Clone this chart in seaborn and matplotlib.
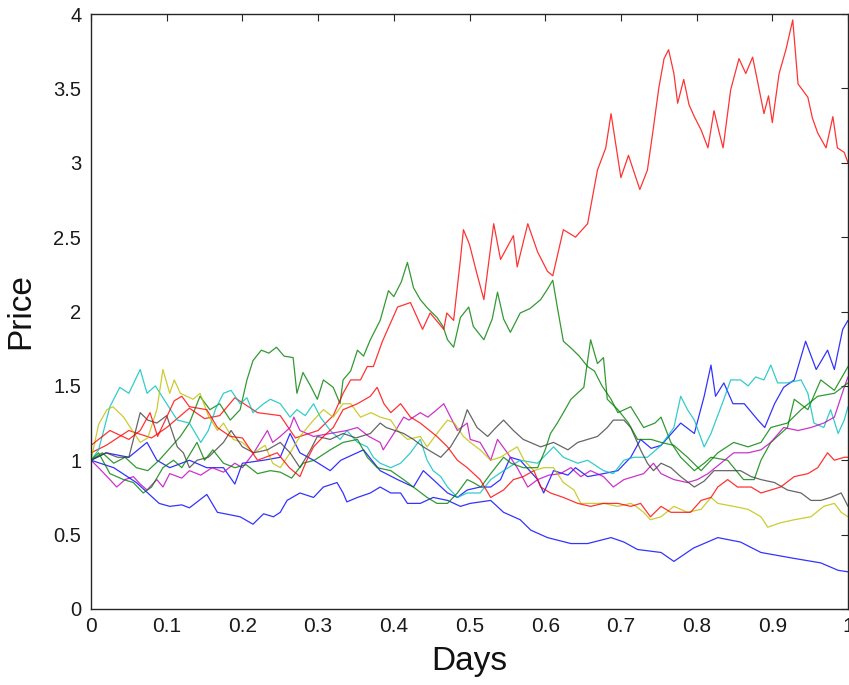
import matplotlib
matplotlib.use("Agg")
import matplotlib.pyplot as plt
import seaborn as sns
import pandas as pd

# ---- data: (day, price) points, one list per simulated path ----
blue_1 = [(0, 1.0), (.02, 1.05), (.05, 1.02), (.074, 1.12), (.087, 1.0), (.104, .95), (.13, 1.0),
          (.153, .95), (.175, .95), (.19, .84), (.2, .98), (.228, 1.0), (.25, 1.02), (.263, 1.18),
          (.276, 1.05), (.294, 1.0), (.316, .93), (.33, 1.0), (.36, 1.07), (.382, .93), (.405, .87),
          (.426, .82), (.439, .93), (.452, .87), (.471, .78), (.484, .75), (.497, .8), (.514, .82),
          (.528, .82), (.541, .87), (.554, 1.02), (.567, 1.0), (.59, .87), (.598, .78), (.611, .93),
          (.63, .9), (.64, .95), (.656, .89), (.677, .91), (.696, .93), (.713, 1.02), (.726, 1.14),
          (.74, 1.08), (.753, 1.1), (.779, 1.25), (.797, 1.18), (.81, 1.43), (.819, 1.64), (.825, 1.43),
          (.836, 1.52), (.848, 1.38), (.863, 1.38), (.881, 1.27), (.89, 1.22), (.903, 1.38), (.915, 1.49),
          (.929, 1.54), (.944, 1.8), (.958, 1.61), (.973, 1.74), (.982, 1.61), (.993, 1.88), (1.0, 1.94)]

green_1 = [(0, 1.0), (.015, 1.05), (.03, .98), (.045, 1.02), (.06, .95), (.075, .93), (.09, 1.0),
           (.104, 1.08), (.118, 1.16), (.13, 1.25), (.144, 1.43), (.157, 1.34), (.17, 1.38), (.184, 1.27),
           (.197, 1.34), (.206, 1.54), (.214, 1.67), (.225, 1.74), (.235, 1.72), (.245, 1.76), (.255, 1.7),
           (.267, 1.69), (.272, 1.45), (.28, 1.59), (.29, 1.5), (.299, 1.41), (.307, 1.54), (.32, 1.49),
           (.329, 1.38), (.333, 1.54), (.343, 1.6), (.352, 1.74), (.36, 1.7), (.369, 1.81), (.382, 1.94),
           (.393, 2.14), (.4, 2.1), (.41, 2.2), (.418, 2.33), (.426, 2.16), (.435, 2.08), (.445, 2.02),
           (.457, 1.96), (.465, 1.9), (.471, 1.81), (.479, 1.76), (.488, 1.96), (.499, 2.03), (.505, 1.9),
           (.519, 1.81), (.53, 1.95), (.537, 2.13), (.545, 1.95), (.554, 1.86), (.567, 1.99), (.58, 2.02),
           (.594, 2.08), (.603, 2.15), (.61, 2.21), (.617, 2.0), (.624, 1.8), (.635, 1.75), (.645, 1.7),
           (.656, 1.63), (.665, 1.6), (.675, 1.5), (.687, 1.41), (.696, 1.32), (.713, 1.36), (.73, 1.22),
           (.745, 1.25), (.753, 1.29), (.766, 1.12), (.779, 1.02), (.797, .93), (.81, .98), (.819, 1.02),
           (.841, 1.0), (.862, .87), (.876, .87), (.885, 1.0), (.898, 1.12), (.92, 1.22), (.929, 1.41),
           (.947, 1.34), (.964, 1.54), (.982, 1.47), (1.0, 1.63)]

red_1 = [(0, 1.05), (.02, 1.1), (.05, 1.2), (.08, 1.15), (.1, 1.22), (.13, 1.35), (.15, 1.28), (.17, 1.3),
         (.19, 1.42), (.22, 1.32), (.25, 1.3), (.27, 1.15), (.3, 1.2), (.32, 1.3), (.333, 1.45), (.343, 1.54),
         (.356, 1.54), (.365, 1.63), (.373, 1.63), (.385, 1.8), (.405, 2.03), (.422, 2.06), (.438, 1.88),
         (.448, 1.99), (.466, 1.88), (.47, 1.99), (.479, 1.94), (.488, 2.35), (.492, 2.55), (.5, 2.45),
         (.51, 2.25), (.519, 2.08), (.532, 2.59), (.541, 2.35), (.558, 2.51), (.563, 2.3), (.577, 2.59),
         (.59, 2.4), (.603, 2.27), (.61, 2.24), (.624, 2.55), (.64, 2.5), (.656, 2.59), (.669, 2.95),
         (.68, 3.1), (.687, 3.33), (.7, 2.9), (.71, 3.05), (.725, 2.82), (.735, 2.95), (.742, 3.2),
         (.75, 3.5), (.757, 3.7), (.763, 3.76), (.77, 3.6), (.775, 3.4), (.783, 3.56), (.79, 3.39),
         (.797, 3.31), (.806, 3.22), (.815, 3.1), (.823, 3.35), (.83, 3.2), (.835, 3.1), (.845, 3.49),
         (.856, 3.7), (.865, 3.6), (.874, 3.71), (.88, 3.56), (.889, 3.33), (.895, 3.45), (.9, 3.27),
         (.909, 3.6), (.918, 3.76), (.927, 3.96), (.934, 3.53), (.947, 3.44), (.953, 3.3), (.96, 3.2),
         (.971, 3.1), (.98, 3.31), (.986, 3.1), (.995, 3.07), (1.0, 3.0)]

cyan_1 = [(0, 1.0), (.01, 1.07), (.025, 1.36), (.038, 1.49), (.05, 1.45), (.065, 1.61), (.074, 1.45),
          (.085, 1.5), (.1, 1.38), (.114, 1.27), (.13, 1.25), (.145, 1.12), (.155, 1.2), (.165, 1.35),
          (.175, 1.45), (.185, 1.47), (.197, 1.38), (.206, 1.42), (.214, 1.32), (.228, 1.38), (.237, 1.41),
          (.25, 1.38), (.263, 1.29), (.272, 1.34), (.283, 1.3), (.294, 1.38), (.303, 1.29), (.316, 1.2),
          (.329, 1.14), (.338, 1.2), (.352, 1.12), (.365, 1.09), (.373, 1.02), (.382, .98), (.396, .95),
          (.409, .98), (.422, 1.05), (.435, 1.14), (.444, 1.0), (.452, .93), (.462, .89), (.471, .82),
          (.484, .75), (.497, .78), (.514, .78), (.528, .87), (.545, .93), (.567, 1.0), (.59, .98),
          (.611, 1.09), (.624, 1.02), (.643, .98), (.656, 1.0), (.677, .93), (.69, .91), (.704, 1.0),
          (.717, 1.02), (.735, 1.02), (.753, 1.1), (.77, 1.22), (.779, 1.43), (.788, 1.34), (.797, 1.27),
          (.81, 1.09), (.819, 1.18), (.836, 1.41), (.845, 1.54), (.858, 1.54), (.868, 1.5), (.878, 1.56),
          (.889, 1.54), (.898, 1.64), (.907, 1.52), (.92, 1.52), (.938, 1.54), (.947, 1.45), (.955, 1.25),
          (.968, 1.22), (.977, 1.34), (.987, 1.18), (.995, 1.27), (1.0, 1.36)]

magenta_1 = [(0, 1.0), (.01, .95), (.025, .87), (.034, .82), (.045, .87), (.056, .89), (.065, .84),
             (.074, .8), (.087, .87), (.095, .82), (.104, .91), (.12, .88), (.13, .93), (.145, .9),
             (.16, .95), (.175, .92), (.19, .98), (.2, .95), (.215, 1.05), (.233, 1.2), (.24, 1.12),
             (.25, 1.16), (.263, 1.22), (.268, 1.29), (.276, 1.2), (.294, 1.16), (.316, 1.18), (.338, 1.2),
             (.352, 1.22), (.367, 1.16), (.382, 1.12), (.386, 1.07), (.4, 1.18), (.413, 1.29), (.42, 1.27),
             (.435, 1.32), (.445, 1.29), (.457, 1.34), (.466, 1.38), (.475, 1.29), (.484, 1.2), (.497, 1.25),
             (.501, 1.14), (.514, 1.12), (.528, 1.0), (.537, 1.14), (.55, 1.05), (.563, .95), (.577, .82),
             (.59, .87), (.605, .9), (.62, .91), (.634, .95), (.647, .89), (.66, .93), (.677, .89),
             (.69, .82), (.704, .87), (.717, .89), (.73, .91), (.743, .98), (.753, .91), (.77, .87),
             (.788, .85), (.801, .87), (.815, .91), (.832, .98), (.849, 1.05), (.868, 1.05), (.885, 1.07),
             (.898, 1.12), (.915, 1.22), (.934, 1.2), (.951, 1.22), (.968, 1.25), (.982, 1.29),
             (.995, 1.49), (1.0, 1.56)]

yellow_1 = [(0, 1.0), (.005, 1.12), (.01, 1.24), (.021, 1.34), (.029, 1.36), (.043, 1.29), (.052, 1.22),
            (.065, 1.12), (.075, 1.15), (.087, 1.34), (.095, 1.61), (.104, 1.45), (.11, 1.54), (.118, 1.45),
            (.135, 1.41), (.144, 1.45), (.155, 1.3), (.167, 1.2), (.175, 1.25), (.188, 1.14), (.2, 1.12),
            (.215, 1.05), (.23, 1.1), (.24, .98), (.25, .95), (.263, 1.05), (.276, 1.16), (.294, 1.27),
            (.307, 1.34), (.32, 1.29), (.333, 1.38), (.343, 1.38), (.356, 1.29), (.37, 1.32), (.382, 1.29),
            (.396, 1.27), (.405, 1.2), (.418, 1.14), (.435, 1.16), (.444, 1.09), (.457, 1.18), (.471, 1.27),
            (.48, 1.25), (.492, 1.16), (.501, 1.12), (.514, 1.07), (.528, 1.0), (.541, 1.02), (.55, 1.05),
            (.563, 1.09), (.572, 1.0), (.585, .93), (.598, .95), (.611, .95), (.624, .85), (.638, .8),
            (.647, .71), (.66, .71), (.677, .71), (.696, .69), (.713, .71), (.72, .69), (.73, .65),
            (.739, .6), (.753, .62), (.77, .69), (.788, .65), (.806, .67), (.819, .75), (.828, .71),
            (.849, .69), (.868, .67), (.885, .62), (.894, .55), (.911, .58), (.929, .6), (.951, .62),
            (.968, .69), (.982, .71), (.991, .65), (1.0, .62)]

black_1 = [(0, 1.0), (.02, 1.05), (.035, 1.02), (.05, 1.02), (.065, 1.32), (.075, 1.27), (.087, 1.25),
           (.1, 1.3), (.114, 1.09), (.122, 1.05), (.13, .95), (.14, 1.0), (.155, 1.02), (.175, 1.12),
           (.185, 1.2), (.2, 1.09), (.215, 1.05), (.233, 1.07), (.25, 1.12), (.263, 1.05), (.276, .95),
           (.29, 1.07), (.299, 1.16), (.316, 1.14), (.333, 1.18), (.35, 1.15), (.369, 1.18), (.382, 1.25),
           (.39, 1.22), (.413, 1.18), (.426, 1.14), (.439, 1.09), (.452, 1.05), (.462, 1.02), (.475, 1.09),
           (.488, 1.2), (.497, 1.34), (.51, 1.22), (.524, 1.16), (.535, 1.22), (.545, 1.27), (.558, 1.2),
           (.571, 1.14), (.594, 1.09), (.611, 1.12), (.63, 1.07), (.643, 1.12), (.656, 1.14), (.669, 1.16),
           (.682, 1.22), (.69, 1.27), (.704, 1.27), (.713, 1.22), (.726, 1.07), (.735, .98), (.743, .93),
           (.753, .98), (.766, .95), (.779, .89), (.797, .82), (.81, .86), (.823, .93), (.841, .93),
           (.858, .93), (.872, .89), (.885, .87), (.903, .85), (.92, .8), (.938, .78), (.951, .73),
           (.964, .73), (.977, .75), (.991, .78), (1.0, .69)]

blue_2 = [(0, 1.0), (.03, .95), (.06, .85), (.075, .78), (.09, .71), (.104, .69), (.12, .7), (.13, .68),
          (.153, .77), (.167, .65), (.197, .62), (.214, .57), (.228, .64), (.241, .62), (.25, .65),
          (.259, .73), (.276, .78), (.294, .75), (.307, .82), (.325, .85), (.333, .78), (.338, .72),
          (.352, .75), (.369, .78), (.382, .82), (.396, .78), (.409, .78), (.418, .71), (.435, .71),
          (.452, .75), (.471, .73), (.488, .69), (.501, .71), (.528, .73), (.545, .65), (.567, .6),
          (.581, .53), (.603, .48), (.634, .44), (.656, .44), (.687, .48), (.704, .45), (.722, .4),
          (.753, .38), (.77, .32), (.796, .41), (.828, .48), (.858, .45), (.885, .38), (.929, .34),
          (.964, .31), (.987, .26), (1.0, .25)]

green_2 = [(0, 1.0), (.01, 1.05), (.025, .91), (.043, .87), (.056, .85), (.069, .78), (.08, .82),
           (.095, .95), (.109, 1.0), (.12, .95), (.14, 1.12), (.15, 1.0), (.161, 1.07), (.175, .98),
           (.19, .95), (.205, .97), (.22, .91), (.237, .93), (.25, .92), (.265, .88), (.28, .98),
           (.295, 1.0), (.316, 1.07), (.333, 1.12), (.352, 1.14), (.365, 1.02), (.378, .95), (.396, .93),
           (.413, .87), (.431, .8), (.444, .75), (.457, .71), (.471, .71), (.484, .78), (.497, .87),
           (.505, .85), (.515, .82), (.528, .91), (.545, 1.02), (.555, .98), (.571, .95), (.59, .95),
           (.6, 1.07), (.607, 1.18), (.616, 1.25), (.624, 1.32), (.634, 1.41), (.651, 1.49), (.66, 1.81),
           (.669, 1.65), (.677, 1.69), (.682, 1.41), (.696, 1.34), (.71, 1.25), (.722, 1.14), (.74, 1.14),
           (.753, 1.12), (.77, 1.1), (.788, 1.02), (.806, .93), (.828, 1.05), (.849, 1.12), (.868, 1.09),
           (.885, 1.12), (.898, 1.22), (.92, 1.25), (.938, 1.34), (.96, 1.43), (.982, 1.45), (1.0, 1.52)]

red_2 = [(0, 1.1), (.025, 1.2), (.05, 1.14), (.065, 1.2), (.078, 1.32), (.088, 1.16), (.11, 1.4),
         (.12, 1.43), (.13, 1.36), (.153, 1.34), (.167, 1.22), (.184, 1.16), (.2, 1.15), (.22, 1.0),
         (.246, 1.05), (.262, .95), (.276, .89), (.285, 1.0), (.294, 1.09), (.307, 1.16), (.32, 1.22),
         (.333, 1.34), (.352, 1.38), (.369, 1.43), (.378, 1.49), (.387, 1.38), (.396, 1.32), (.409, 1.38),
         (.422, 1.29), (.435, 1.25), (.457, 1.16), (.471, 1.09), (.484, 1.0), (.497, .95), (.514, .87),
         (.528, .75), (.545, .8), (.558, .87), (.571, .89), (.585, .93), (.594, .82), (.607, .78),
         (.624, .75), (.643, .71), (.66, .69), (.677, .71), (.696, .71), (.713, .69), (.726, .71),
         (.739, .62), (.753, .69), (.766, .65), (.792, .65), (.806, .73), (.819, .75), (.828, .82),
         (.841, .87), (.854, .82), (.872, .82), (.885, .78), (.898, .8), (.911, .82), (.929, .89),
         (.947, .91), (.96, .95), (.973, 1.05), (.982, 1.0), (.995, 1.02), (1.0, 1.02)]

path_order = ["blue_1", "green_1", "red_1", "cyan_1", "magenta_1", "yellow_1", "black_1",
              "blue_2", "green_2", "red_2"]
paths = {"blue_1": blue_1, "green_1": green_1, "red_1": red_1, "cyan_1": cyan_1,
         "magenta_1": magenta_1, "yellow_1": yellow_1, "black_1": black_1,
         "blue_2": blue_2, "green_2": green_2, "red_2": red_2}

palette = {"blue_1": (0, 0, 1), "green_1": (0, 0.5, 0), "red_1": (1, 0, 0), "cyan_1": (0, 0.75, 0.75),
           "magenta_1": (0.75, 0, 0.75), "yellow_1": (0.75, 0.75, 0), "black_1": (0.25, 0.25, 0.25),
           "blue_2": (0, 0, 1), "green_2": (0, 0.5, 0), "red_2": (1, 0, 0)}

rows = []
for name in path_order:
    for d, p in paths[name]:
        rows.append({"path": name, "Days": d, "Price": p})
df = pd.DataFrame(rows)

# ---- style ----
sns.set_style("white")
plt.rcParams["font.family"] = ["Liberation Sans", "DejaVu Sans"]

fig = plt.figure(figsize=(8.49, 6.85), dpi=100)
ax = fig.add_axes([91 / 849, 76 / 685, 757 / 849, 595 / 685])

sns.lineplot(data=df, x="Days", y="Price", hue="path", hue_order=path_order, palette=palette,
             sort=False, estimator=None, legend=False, linewidth=0.9, alpha=0.8, ax=ax)

ax.set_xlim(0, 1)
ax.set_ylim(0, 4)
ax.set_xticks([0, .1, .2, .3, .4, .5, .6, .7, .8, .9, 1])
ax.set_xticklabels(["0", "0.1", "0.2", "0.3", "0.4", "0.5", "0.6", "0.7", "0.8", "0.9", "1"],
                   family=["Liberation Sans Narrow", "Liberation Sans", "DejaVu Sans"], fontsize=15)
ax.set_yticks([0, .5, 1, 1.5, 2, 2.5, 3, 3.5, 4])
ax.set_yticklabels(["0", "0.5", "1", "1.5", "2", "2.5", "3", "3.5", "4"], fontsize=14.5)

for s in ax.spines.values():
    s.set_visible(True)
    s.set_color("#262626")
    s.set_linewidth(1.0)

ax.tick_params(axis="both", which="both", direction="in", length=5, width=0.8, color="#262626",
               top=True, right=True, labelcolor="#1a1a1a")
ax.tick_params(axis="x", pad=6)
ax.tick_params(axis="y", pad=7)

ax.set_xlabel("Days", fontsize=24, color="#111111")
ax.set_ylabel("Price", fontsize=24, color="#111111")
ax.xaxis.set_label_coords(0.5, -0.063)
ax.yaxis.set_label_coords(-0.072, 0.5)

fig.savefig("out.png", dpi=100)
